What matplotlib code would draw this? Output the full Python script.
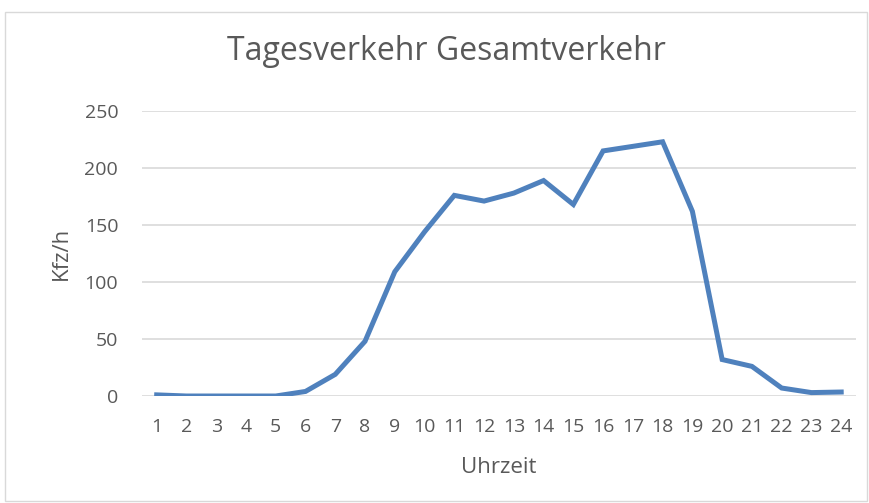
import matplotlib
matplotlib.use("Agg")
import matplotlib.pyplot as plt
from matplotlib.patches import Rectangle

# hourly traffic (Kfz/h)
hours = list(range(1, 25))
kfz = [1, 0, 0, 0, 0, 4, 19, 48, 109, 144, 176, 171, 178, 189, 168, 215, 219, 223, 162, 32, 26, 7, 3, 3.5]

title = "Tagesverkehr Gesamtverkehr"
x_label = "Uhrzeit"
y_label = "Kfz/h"
y_ticks = [0, 50, 100, 150, 200, 250]

grey = "#595959"
plt.rcParams["font.family"] = ["Open Sans", "DejaVu Sans"]

fig = plt.figure(figsize=(8.7, 5.03), dpi=100)
fig.patches.append(Rectangle((5 / 870, 2 / 503), 862 / 870, 489 / 503, transform=fig.transFigure,
                             fill=False, edgecolor="#d9d9d9", linewidth=1))

ax = fig.add_axes([0.163, 0.2127, 0.821, 0.5666])
ax.plot(hours, kfz, color="#4f81bd", linewidth=3.6, solid_joinstyle="miter", zorder=3)

ax.set_xlim(0.5, 24.5)
ax.set_ylim(0, 250)
ax.set_xticks(hours)
ax.set_yticks(y_ticks)
ax.grid(axis="y", color="#d9d9d9", linewidth=1.2)
ax.grid(axis="x", visible=False)
for s in ax.spines.values():
    s.set_visible(False)
ax.tick_params(length=0, labelsize=14, colors=grey)
ax.tick_params(axis="x", pad=16)
ax.tick_params(axis="y", pad=17)

ax.set_xlabel(x_label, fontsize=16, color=grey, labelpad=15)
ax.set_ylabel(y_label, fontsize=16, color=grey, labelpad=9)
fig.text(0.513, 0.897, title, ha="center", va="center", fontsize=23, color=grey)

fig.savefig("out.png", dpi=100)
